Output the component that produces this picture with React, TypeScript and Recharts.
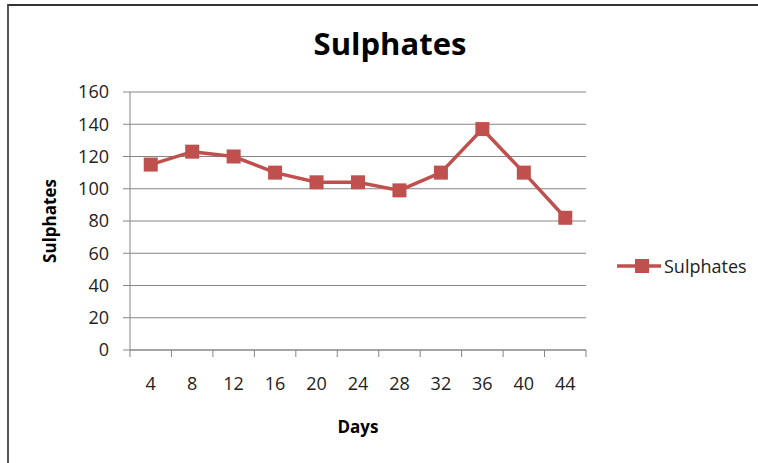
import { LineChart, Line, XAxis, YAxis, CartesianGrid, Legend } from "recharts";

const days = [4, 8, 12, 16, 20, 24, 28, 32, 36, 40, 44];
const sulphates = [115, 123, 120, 110, 104, 104, 99, 110, 137, 110, 82];
const yTicks = [0, 20, 40, 60, 80, 100, 120, 140, 160];

const data = days.map((d, i) => ({ day: d, sulphates: sulphates[i] }));

// tick marks sit between categories, like Excel
const step = days[1] - days[0];
const betweenTicks = [...days.map((d) => d - step / 2), days[days.length - 1] + step / 2];
const xDomain = [betweenTicks[0], betweenTicks[betweenTicks.length - 1]];

const RED = "#C0504D";
const GREY = "#868686";
const FONT = "'Open Sans', sans-serif";

const SquareDot = (props: any) => {
  const { cx, cy } = props;
  if (cx == null || cy == null) return null;
  return <rect x={cx - 7} y={cy - 7} width={14} height={14} fill={RED} />;
};

const LegendContent = () => (
  <div style={{ display: "flex", alignItems: "center", paddingLeft: 31, fontFamily: FONT, fontSize: 18, color: "#222" }}>
    <svg width={44} height={16} style={{ flexShrink: 0 }}>
      <line x1={0} y1={8} x2={44} y2={8} stroke={RED} strokeWidth={3.5} />
      <rect x={18} y={1} width={14} height={14} fill={RED} />
    </svg>
    <span style={{ marginLeft: 3, whiteSpace: "nowrap" }}>Sulphates</span>
  </div>
);

export default function App() {
  return (
    <div style={{ position: "relative", width: 758, height: 463, background: "#fff", fontFamily: FONT, overflow: "hidden" }}>
      <style>{"body{margin:0}"}</style>
      <div
        style={{
          position: "absolute",
          left: 7,
          top: 4,
          width: 800,
          height: 500,
          borderTop: "2px solid #333",
          borderLeft: "2px solid #555",
        }}
      />
      <div
        style={{
          position: "absolute",
          left: 0,
          width: 780,
          top: 22,
          textAlign: "center",
          fontSize: 31,
          fontWeight: 700,
          color: "#000",
          lineHeight: "42px",
        }}
      >
        Sulphates
      </div>
      <LineChart
        width={758}
        height={463}
        data={data}
        margin={{ top: 92, right: 2, bottom: 0, left: 0 }}
        style={{ position: "absolute", left: 0, top: 0 }}
      >
        <CartesianGrid horizontal vertical={false} stroke={GREY} strokeWidth={1} />
        <XAxis
          xAxisId="a"
          dataKey="day"
          type="number"
          domain={xDomain}
          ticks={betweenTicks}
          tickFormatter={() => ""}
          stroke={GREY}
          tickSize={7}
          height={8}
          interval={0}
        />
        <XAxis
          xAxisId="b"
          dataKey="day"
          type="number"
          domain={xDomain}
          ticks={days}
          interval={0}
          axisLine={false}
          tickLine={false}
          tickSize={6}
          tickMargin={13}
          height={105}
          tick={{ fill: "#222", fontSize: 18, fontFamily: FONT }}
          label={{
            value: "Days",
            position: "insideTop",
            offset: 63,
            fill: "#000",
            fontSize: 17,
            fontWeight: 700,
            fontFamily: FONT,
          }}
        />
        <YAxis
          domain={[0, 160]}
          ticks={yTicks}
          interval={0}
          width={130}
          stroke={GREY}
          tickSize={7}
          tickMargin={14}
          tick={{ fill: "#222", fontSize: 18, fontFamily: FONT }}
          label={{
            value: "Sulphates",
            angle: -90,
            position: "insideLeft",
            offset: 50,
            fill: "#000",
            fontSize: 17,
            fontWeight: 700,
            fontFamily: FONT,
            style: { textAnchor: "middle" },
          }}
        />
        <Line
          xAxisId="a"
          dataKey="sulphates"
          name="Sulphates"
          stroke={RED}
          strokeWidth={3.5}
          dot={<SquareDot />}
          activeDot={false}
          isAnimationActive={false}
        />
        <Legend
          layout="vertical"
          align="right"
          verticalAlign="middle"
          content={<LegendContent />}
          wrapperStyle={{ width: 170, top: 254, right: 2 }}
        />
      </LineChart>
    </div>
  );
}
